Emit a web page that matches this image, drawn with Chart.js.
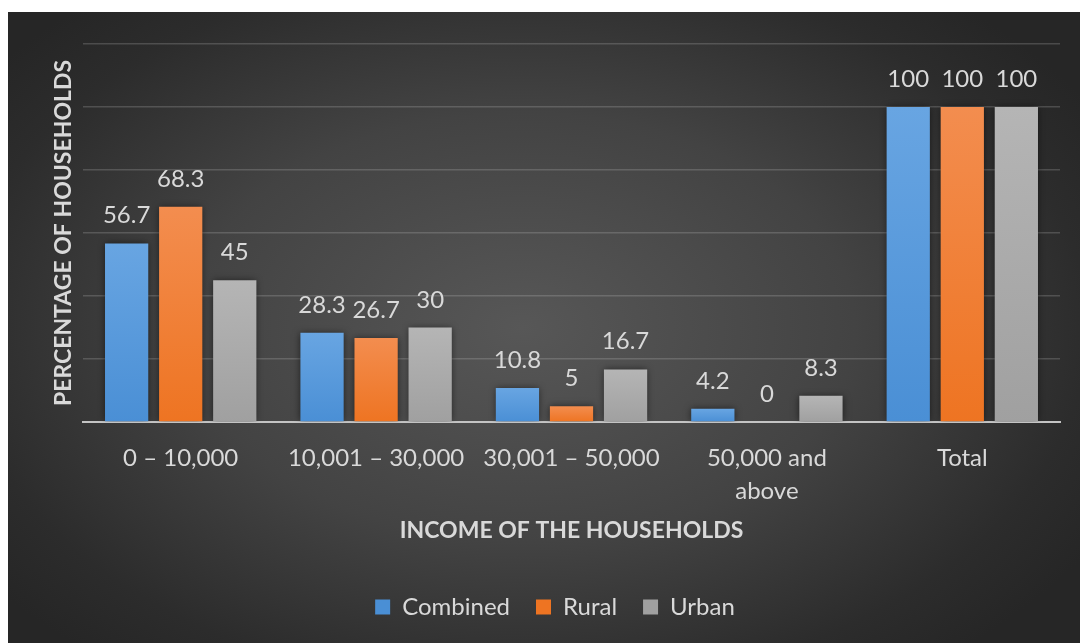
<!DOCTYPE html>
<html>
<head>
<meta charset="utf-8">
<script src="https://cdn.jsdelivr.net/npm/chart.js@4"></script>
<style>
  html, body { margin: 0; padding: 0; background: #ffffff; }
  #wrap {
    position: absolute; left: 8px; top: 12px; width: 1072px; height: 631px;
    background: radial-gradient(ellipse 62% 68% at 48% 50%, #575757 0%, #434343 50%, #2c2c2c 85%, #262626 100%);
  }
</style>
</head>
<body>
<div id="wrap"><canvas id="chart"></canvas></div>
<script>
// Categories and series
const incomeGroups = ['0 – 10,000', '10,001 – 30,000', '30,001 – 50,000', ['50,000 and', 'above'], 'Total'];
const combined = [56.7, 28.3, 10.8, 4.2, 100];
const rural = [68.3, 26.7, 5, 0, 100];
const urban = [45, 30, 16.7, 8.3, 100];

const FONT = 'Lato';
const TEXT = '#d9d9d9';

// vertical gradient for each bar, from its top down to the axis
function barFill(top, bottom) {
  return (ctx) => {
    const chart = ctx.chart;
    if (!chart.chartArea || ctx.raw === undefined) return bottom;
    const y = chart.scales.y;
    const y0 = y.getPixelForValue(ctx.raw);
    const y1 = y.getPixelForValue(0);
    if (y1 - y0 < 1) return bottom;
    const g = chart.ctx.createLinearGradient(0, y0, 0, y1);
    g.addColorStop(0, top);
    g.addColorStop(1, bottom);
    return g;
  };
}

// soft shadow behind bars + value labels above them
const barExtras = {
  id: 'barExtras',
  beforeDatasetsDraw(chart) {
    const c = chart.ctx;
    c.save();
    c.shadowColor = 'rgba(0,0,0,0.55)';
    c.shadowBlur = 7;
  },
  afterDatasetsDraw(chart) {
    const c = chart.ctx;
    c.restore();
    c.save();
    c.font = '24px ' + FONT;
    c.fillStyle = TEXT;
    c.textAlign = 'center';
    c.textBaseline = 'alphabetic';
    chart.data.datasets.forEach((ds, i) => {
      chart.getDatasetMeta(i).data.forEach((bar, j) => {
        c.fillText(String(ds.data[j]), bar.x, bar.y - 20);
      });
    });
    c.restore();
  }
};

new Chart(document.getElementById('chart'), {
  type: 'bar',
  data: {
    labels: incomeGroups,
    datasets: [
      { label: 'Combined', data: combined, backgroundColor: barFill('#68a5e2', '#4a8fd5') },
      { label: 'Rural', data: rural, backgroundColor: barFill('#f38d4f', '#ee7422') },
      { label: 'Urban', data: urban, backgroundColor: barFill('#b5b5b5', '#a0a0a0') }
    ]
  },
  options: {
    responsive: true,
    maintainAspectRatio: false,
    animation: false,
    datasets: { bar: { categoryPercentage: 0.83, barPercentage: 0.8 } },
    layout: { padding: { left: 42, right: 20, top: 32, bottom: 14 } },
    plugins: {
      tooltip: { enabled: false },
      legend: {
        position: 'bottom',
        labels: {
          color: TEXT,
          font: { family: FONT, size: 24 },
          boxWidth: 15,
          boxHeight: 15,
          padding: 26
        }
      }
    },
    scales: {
      x: {
        grid: { display: false },
        border: { display: true, color: '#c4c4c4', width: 2 },
        ticks: {
          color: TEXT,
          font: { family: FONT, size: 24, lineHeight: 1.375 },
          padding: 12,
          maxRotation: 0,
          minRotation: 0,
          autoSkip: false
        },
        title: {
          display: true,
          text: 'INCOME OF THE HOUSEHOLDS',
          color: TEXT,
          font: { family: FONT, size: 23, weight: 'bold' },
          padding: { top: 0, bottom: 25 }
        },
        afterFit(scale) { scale.height = 147; }
      },
      y: {
        min: 0,
        max: 120,
        ticks: { display: false, stepSize: 20 },
        grid: { color: 'rgba(220,220,220,0.2)', lineWidth: 1.5, drawTicks: false },
        border: { display: false },
        title: {
          display: true,
          text: 'PERCENTAGE OF HOUSEHOLDS',
          color: TEXT,
          font: { family: FONT, size: 23, weight: 'bold' },
          padding: { top: 0, bottom: 0 }
        },
        afterFit(scale) { scale.width = 33; }
      }
    }
  },
  plugins: [barExtras]
});
</script>
</body>
</html>
